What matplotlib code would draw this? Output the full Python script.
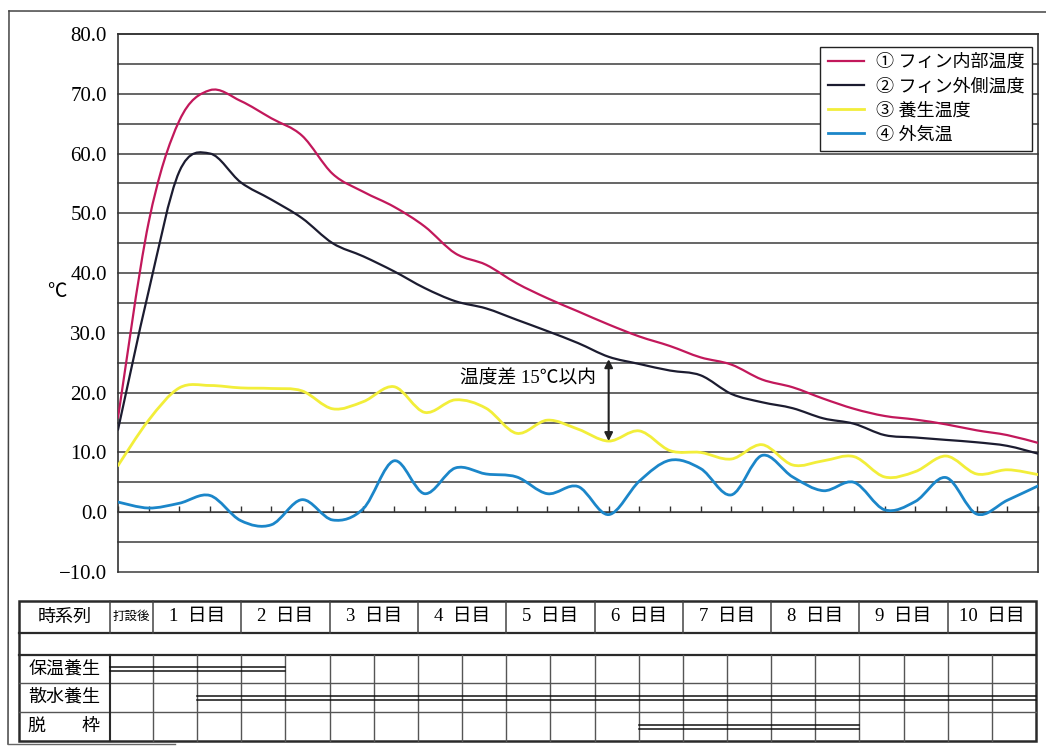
import numpy as np
import matplotlib
matplotlib.use("Agg")
import matplotlib.pyplot as plt
from matplotlib.path import Path
from matplotlib.patches import PathPatch, Rectangle
from matplotlib.lines import Line2D
from matplotlib.ticker import FuncFormatter

# serif digits like the printed sheet, CJK glyphs fall back to Noto
plt.rcParams["font.family"] = ["Liberation Serif", "Noto Sans CJK JP", "DejaVu Sans"]

# readings every 8 hours, 10 days after pouring
inner_temp = [15.8, 48.5, 65.5, 70.6, 68.8, 65.9, 63.0, 56.6, 53.6, 51.1, 47.8, 43.3,
              41.4, 38.3, 35.8, 33.6, 31.4, 29.4, 27.8, 25.9, 24.7, 22.2, 20.9, 19.0,
              17.3, 16.1, 15.5, 14.7, 13.7, 12.9, 11.6]
outer_temp = [13.8, 37.0, 57.0, 60.0, 55.2, 52.3, 49.2, 45.0, 42.8, 40.3, 37.5, 35.3,
              34.1, 32.2, 30.3, 28.3, 26.0, 24.8, 23.7, 22.9, 19.8, 18.4, 17.4, 15.7,
              14.8, 12.9, 12.5, 12.1, 11.7, 11.1, 9.8]
curing_temp = [7.8, 15.4, 20.8, 21.2, 20.8, 20.7, 20.3, 17.3, 18.5, 21.0, 16.7, 18.8,
               17.4, 13.2, 15.4, 13.9, 11.9, 13.6, 10.3, 10.0, 8.9, 11.3, 7.9, 8.6,
               9.3, 5.9, 6.8, 9.4, 6.4, 7.1, 6.3]
air_temp = [1.7, 0.7, 1.5, 2.8, -1.4, -2.1, 2.1, -1.3, 0.6, 8.6, 3.1, 7.4,
            6.4, 5.9, 3.1, 4.3, -0.4, 5.2, 8.7, 7.3, 2.9, 9.5, 5.9, 3.6,
            5.0, 0.4, 1.8, 5.8, -0.3, 2.0, 4.4]

series_labels = ["① フィン内部温度", "② フィン外側温度", "③ 養生温度", "④ 外気温"]
series_colors = ["#c2185b", "#1c1c30", "#f2ee3a", "#1b86c9"]

day_labels = ["1\u2002日目", "2\u2002日目", "3\u2002日目", "4\u2002日目", "5\u2002日目",
              "6\u2002日目", "7\u2002日目", "8\u2002日目", "9\u2002日目", "10\u2002日目"]
task_labels = ["保温養生", "散水養生", "脱　　枠"]
task_start = [-0.5, 0.5, 5.5]   # in days, -0.5 = start of 打設後 column
task_end = [1.5, 10.0, 8.0]


def smooth_path(xs, ys):
    pts = np.column_stack([xs, ys]).astype(float)
    ext = np.vstack([pts[0], pts, pts[-1]])
    verts = [pts[0]]
    codes = [Path.MOVETO]
    for i in range(len(pts) - 1):
        p0, p1, p2, p3 = ext[i], ext[i + 1], ext[i + 2], ext[i + 3]
        verts += [p1 + (p2 - p0) / 6, p2 - (p3 - p1) / 6, p2]
        codes += [Path.CURVE4] * 3
    return Path(verts, codes)


W, H = 1046, 748
fig = plt.figure(figsize=(W / 100, H / 100), dpi=100)


def px_box(l, t, r, b):
    return [l / W, 1 - b / H, (r - l) / W, (b - t) / H]


# overlay in pixel coords for the frame, the schedule table and the unit label
tab = fig.add_axes([0, 0, 1, 1])
tab.set_xlim(0, W)
tab.set_ylim(H, 0)
tab.axis("off")
tab.patch.set_visible(False)

edge = "#2a2a2a"
tab.plot([9, W], [11, 12], color="#444", lw=1.1)
tab.plot([9, 8], [11, 744], color="#444", lw=1.1)
tab.plot([8, 175], [744, 744], color="#666", lw=1.0)

TL, TR = 19, 1036
label_r, pour_r = 110, 153
top, head_b, blank_b = 601, 633, 655
row_b = [655, 683, 712, 741]
day_w = (TR - pour_r) / len(day_labels)


def day_px(d):
    if d >= 0:
        return pour_r + d * day_w
    return pour_r + d * 2 * (pour_r - label_r)


tab.add_patch(Rectangle((TL, top), TR - TL, row_b[-1] - top, fill=False, ec=edge, lw=1.8))
tab.plot([TL, TR], [head_b, head_b], color=edge, lw=1.6)
tab.plot([TL, TR], [blank_b, blank_b], color=edge, lw=1.6)
for yb in row_b[1:-1]:
    tab.plot([TL, TR], [yb, yb], color="#555", lw=1.0)
for xv in [label_r, pour_r] + [day_px(k) for k in range(1, len(day_labels))]:
    tab.plot([xv, xv], [top, head_b], color="#444", lw=1.1)
tab.plot([label_r, label_r], [blank_b, row_b[-1]], color=edge, lw=1.5)
for k in range(0, 2 * len(day_labels)):
    xv = day_px(k / 2)
    tab.plot([xv, xv], [blank_b, row_b[-1]], color="#555", lw=1.0)

fs = 13
tab.text((TL + label_r) / 2, (top + head_b) / 2, "時系列", ha="center", va="center", fontsize=fs)
tab.text((label_r + pour_r) / 2, (top + head_b) / 2, "打設後", ha="center", va="center", fontsize=9)
for k, lab in enumerate(day_labels):
    tab.text(day_px(k + 0.5), (top + head_b) / 2, lab, ha="center", va="center", fontsize=13.5)
for r, lab in enumerate(task_labels):
    ym = (row_b[r] + row_b[r + 1]) / 2
    tab.text((TL + label_r) / 2, ym, lab, ha="center", va="center", fontsize=fs)
    x0, x1 = day_px(task_start[r]), day_px(task_end[r])
    tab.plot([x0, x1], [ym - 2, ym - 2], color="#111", lw=1.1)
    tab.plot([x0, x1], [ym + 2, ym + 2], color="#111", lw=1.1)

tab.text(57, 292, "℃", ha="center", va="center", fontsize=14)

# main chart
ax = fig.add_axes(px_box(118, 34, 1038, 572))
ax.patch.set_visible(False)
ax.set_xlim(0, len(inner_temp) - 1)
ax.set_ylim(-10, 80)
for yv in np.arange(-10, 81, 5):
    ax.axhline(yv, color="#3c3c3c", lw=1.1, zorder=1, clip_on=False)
for s in ["left", "right", "top"]:
    ax.spines[s].set_color("#333")
    ax.spines[s].set_linewidth(1.2)
ax.spines["bottom"].set_position(("data", 0))
ax.spines["bottom"].set_color("#3c3c3c")
ax.set_xticks(np.arange(0, len(inner_temp)))
ax.tick_params(axis="x", direction="in", length=4, width=1, color="#333", labelbottom=False)
ax.set_yticks(np.arange(-10, 81, 10))
ax.yaxis.set_major_formatter(FuncFormatter(lambda v, p: f"{v:.1f}".replace("-", "\u2212")))
ax.tick_params(axis="y", length=0, pad=8, labelsize=15)

x = np.arange(len(inner_temp))
handles = []
for ys, col, lw in zip([inner_temp, outer_temp, curing_temp, air_temp], series_colors,
                       [1.6, 1.6, 2.0, 2.0]):
    ax.add_patch(PathPatch(smooth_path(x, ys), fill=False, ec=col, lw=lw,
                           capstyle="round", joinstyle="round", zorder=3))
    handles.append(Line2D([], [], color=col, lw=lw))

leg = ax.legend(handles, series_labels, loc="upper right", bbox_to_anchor=(0.9935, 0.976),
                borderaxespad=0, fancybox=False, edgecolor="#222", framealpha=1,
                fontsize=13, handlelength=2.0, labelspacing=0.4, borderpad=0.4,
                handletextpad=0.7)
leg.get_frame().set_linewidth(1.0)

k = 16
ax.annotate("", xy=(x[k], outer_temp[k] - 0.4), xytext=(x[k], curing_temp[k]),
            arrowprops=dict(arrowstyle="<|-|>", color="#222", lw=1.5,
                            shrinkA=0, shrinkB=0, mutation_scale=12), zorder=4)
ax.text(x[k] - 0.4, 22.3, "温度差 15℃以内", ha="right", va="center", fontsize=13.5)

fig.savefig("out.png", dpi=100)
